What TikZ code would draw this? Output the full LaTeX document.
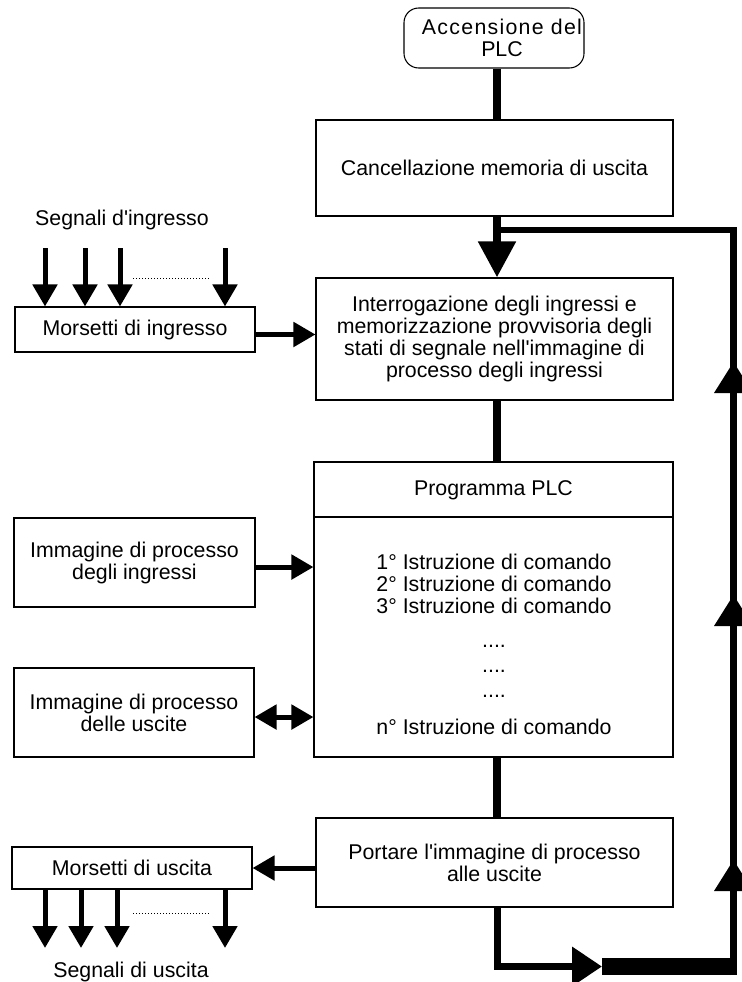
\documentclass[tikz,border=0pt]{standalone}
\usepackage{fontspec}
\setmainfont{Liberation Sans}
\usetikzlibrary{arrows.meta,calc,positioning}
\newcommand{\plcdots}{....}

\begin{document}
\begin{tikzpicture}[x=0.75pt,y=-0.75pt,font=\fontsize{16}{16.5}\selectfont]

\tikzset{box/.style={draw, line width=0.8pt, inner sep=0pt, align=center},
flow/.style={line width=6pt},
loop/.style={line width=4.75pt},
sig/.style={line width=3.75pt, -{Triangle[width=18pt,length=16.5pt]}},
dsig/.style={line width=3.75pt, {Triangle[width=18pt,length=16.5pt]}-{Triangle[width=18pt,length=16.5pt]}},
bigtip/.style={-{Triangle[width=27pt,length=27pt]}},
dots/.style={line width=0.75pt, dash pattern=on 0.75pt off 1.5pt}}

\useasboundingbox (0,0) rectangle (742,982);

% main column
\node[box, rounded corners=11pt, minimum width=135pt, minimum height=45pt] (start) at (494,38) {};
\node[align=center, inner sep=0pt] (starttxt) at (502,38) {{\addfontfeature{LetterSpace=6}Accensione del}\\PLC};

\node[box, minimum width=267.75pt, minimum height=72pt] (canc) at (494.5,168) {Cancellazione memoria di uscita};
\node[box, minimum width=267.75pt, minimum height=91.5pt] (inter) at (494.5,339)
{Interrogazione degli ingressi e\\memorizzazione provvisoria degli\\stati di segnale nell\textquotesingle immagine di\\processo degli ingressi};
\node[box, minimum width=269.25pt, minimum height=221.25pt] (prog) at (493.5,609.5) {};
\node[box, minimum width=267.75pt, minimum height=66.75pt] (port) at (494.5,862.5)
{Portare l\textquotesingle immagine di processo\\alle uscite};

\node (progtitle) at (prog.north |- 0,490) {Programma PLC};
\draw[line width=0.8pt] (prog.west |- 0,517) -- (prog.east |- 0,517);

\foreach \t/\y [count=\i] in {1° Istruzione di comando/569, 2° Istruzione di comando/591,
3° Istruzione di comando/613, \plcdots/647, \plcdots/672, \plcdots/697, n° Istruzione di comando/734}
\node[anchor=base, inner sep=0pt] (istr\i) at (494,\y) {\t};

% left column
\node (segin) at (122,220) {Segnali d\textquotesingle ingresso};
\node[box, minimum width=180pt, minimum height=33.75pt] (morin) at (135,329.5) {Morsetti di ingresso};
\node[box, minimum width=180.75pt, minimum height=66.75pt] (imgin) at (134.5,562.5) {Immagine di processo\\degli ingressi};
\node[box, minimum width=180pt, minimum height=66.75pt] (imgout) at (134,712.5) {Immagine di processo\\delle uscite};
\node[box, minimum width=180pt, minimum height=31.5pt] (morout) at (132,868) {Morsetti di uscita};
\node (segout) at (131,972) {Segnali di uscita};

\foreach \x in {45,85,120,225}
\draw[sig] (\x,248) -- (\x,248 |- morin.north);
\draw[dots] (133,278) -- (210,278);

\foreach \x in {45,81,117,225}
\draw[sig] (morout.south -| \x,0) -- (\x,948);
\draw[dots] (133,913) -- (210,913);

\draw[sig] ([yshift=-3.75pt]morin.east) -- ([yshift=-3.75pt]morin.east -| inter.west);
\draw[sig] ([yshift=-3.4pt]imgin.east) -- ([yshift=-3.4pt]imgin.east -| prog.west);
\draw[dsig] ([yshift=-3.4pt]imgout.east) -- ([yshift=-3.4pt]imgout.east -| prog.west);
\draw[sig] (port.west |- morout.east) -- (morout.east);

% flow and return loop
\coordinate (loopTL) at (497,230);
\coordinate (loopTR) at (733.5,230);
\coordinate (loopBL) at (497,966.5);
\coordinate (tipB) at (602,966.5);
\coordinate (barR) at (737,966.5);

\draw[flow] (start.south -| loopTL) -- (canc.north -| loopTL);
\draw[flow, bigtip] (canc.south -| loopTL) -- (inter.north -| loopTL);
\draw[flow] (inter.south -| loopTL) -- (prog.north -| loopTL);
\draw[flow] (prog.south -| loopTL) -- (port.north -| loopTL);

\draw[line width=5.25pt, -{Triangle[width=28.5pt,length=22.5pt]}] (port.south -| loopBL) -- (loopBL) -- (tipB);
\draw[line width=12.75pt] (tipB) -- (barR);
\draw[loop] ($(barR -| loopTR)+(0,8.5)$) -- (loopTR) -- (loopTL);

\foreach \y in {362,595,860}
\fill (714,\y+31) -- (753,\y+31) -- (733.5,\y) -- cycle;

\end{tikzpicture}
\end{document}
